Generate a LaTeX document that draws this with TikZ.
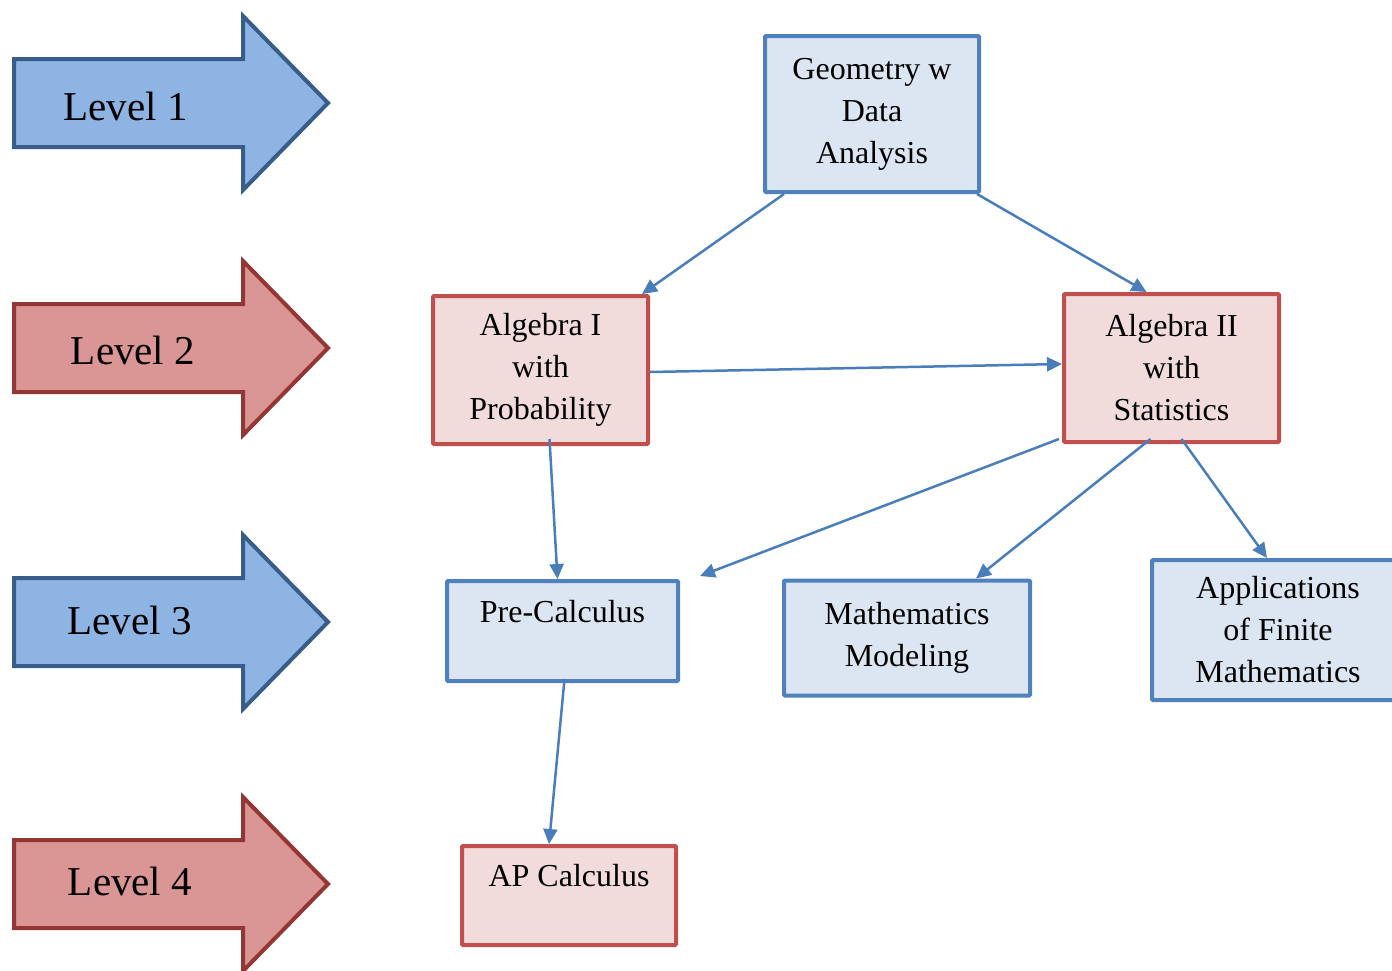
\documentclass[tikz,border=0pt]{standalone}
\usepackage{fontspec}
\setmainfont{Liberation Serif}
\usetikzlibrary{arrows.meta,calc}

\definecolor{lvblue}{HTML}{8EB4E3}
\definecolor{lvbluedraw}{HTML}{385D8A}
\definecolor{lvred}{HTML}{D99694}
\definecolor{lvreddraw}{HTML}{943634}
\definecolor{boxblue}{HTML}{DCE6F2}
\definecolor{boxbluedraw}{HTML}{4F81BD}
\definecolor{boxred}{HTML}{F2DCDB}
\definecolor{boxreddraw}{HTML}{C0504D}
\definecolor{linkblue}{HTML}{4A7EBB}

\begin{document}
\begin{tikzpicture}[x=1pt,y=-1pt,
    course/.style={draw, line width=4pt, rounded corners=1pt, align=center, inner sep=0pt,
        font=\fontsize{32}{42}\selectfont},
    bluecourse/.style={course, draw=boxbluedraw, fill=boxblue},
    redcourse/.style={course, draw=boxreddraw, fill=boxred},
    toplabel/.style={text height=23pt, text depth=41pt},
    link/.style={draw=linkblue, line width=2.5pt, -{Triangle[length=15pt,width=14pt]}}]
    \useasboundingbox (0,0) rectangle (1392,970);

    % level arrows
    \foreach \y/\col/\n/\lx/\ly in {103/blue/1/125.5/106, 348/red/2/133/350, 622/blue/3/129.5/620, 884/red/4/130/881}{
        \draw[line width=4pt, draw=lv\col draw, fill=lv\col]
            (14,\y-44) -- (243,\y-44) -- (243,\y-87) -- (328,\y) -- (243,\y+87) -- (243,\y+44) -- (14,\y+44) -- cycle;
        \node[font=\fontsize{41}{41}\selectfont] (lvl\n) at (\lx,\ly) {Level \n};
    }

    % courses
    \node[bluecourse, minimum width=214pt, minimum height=156pt] (geo) at (872,114) {Geometry w\\Data\\Analysis};
    \node[redcourse, minimum width=215pt, minimum height=148pt] (alg1) at (540.5,370) {Algebra I\\with\\Probability};
    \node[redcourse, minimum width=215pt, minimum height=148pt] (alg2) at (1171.5,368) {Algebra II\\with\\Statistics};
    \node[bluecourse, toplabel, minimum width=231pt, minimum height=100pt] (pre) at (562.5,631) {Pre-Calculus};
    \node[bluecourse, minimum width=246pt, minimum height=115pt] (mod) at (907,638) {Mathematics\\Modeling};
    \node[bluecourse, minimum width=252pt, minimum height=140pt] (app) at (1278,630) {Applications\\of Finite\\Mathematics};
    \node[redcourse, toplabel, minimum width=214pt, minimum height=99pt] (ap) at (569,895.5) {AP Calculus};

    % prerequisites
    \draw[link] ($(geo.south west)+(21,0)$) -- ($(alg1.north east)+(-8,0)$);
    \draw[link] ($(geo.south east)+(-4,0)$) -- ($(alg2.north)+(-25,0)$);
    \draw[link] ($(alg1.east)+(0,2)$) -- ($(alg2.west)+(0,-4)$);
    \draw[link] ($(alg1.south)+(9,-7)$) -- ($(pre.north)+(-5,0)$);
    \draw[link] ($(alg2.south west)+(-3,-5)$) -- ($(pre.north east)+(20,-3)$);
    \draw[link] ($(alg2.south)+(-21,-5)$) -- ($(mod.north)+(69,0)$);
    \draw[link] ($(alg2.south)+(10,-5)$) -- ($(app.north)+(-11,0)$);
    \draw[link] ($(pre.south)+(2,-4)$) -- ($(ap.north)+(-20,0)$);
\end{tikzpicture}
\end{document}
